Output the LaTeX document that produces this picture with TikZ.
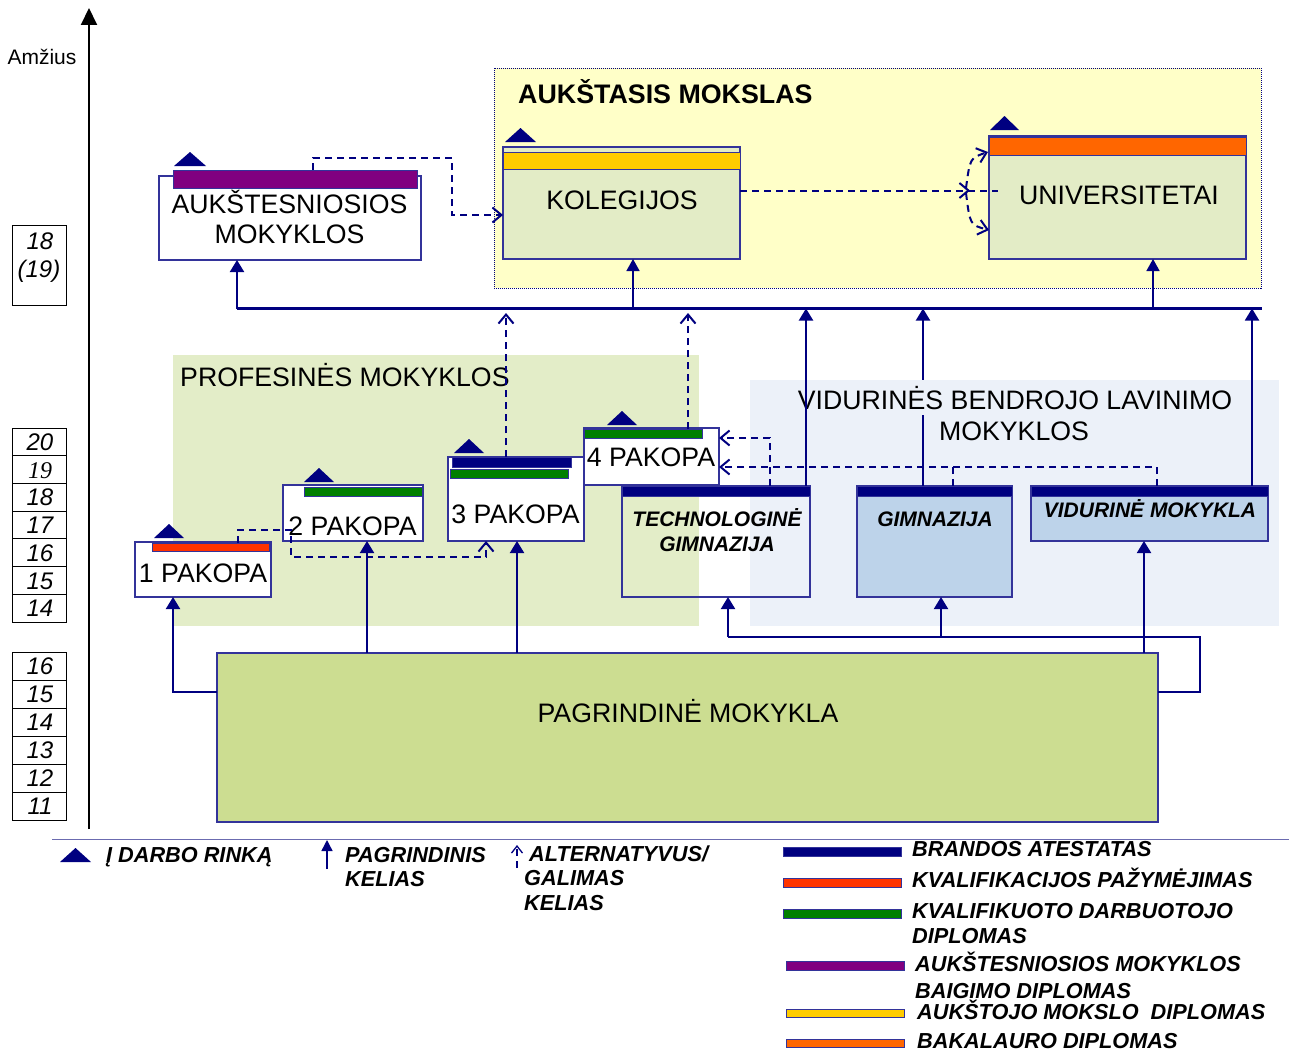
\documentclass[tikz,border=0pt]{standalone}
\usepackage{fontspec}
\setmainfont{Liberation Sans}
\newfontfamily\serifit{Liberation Serif}
\usetikzlibrary{arrows.meta}
\definecolor{navy}{HTML}{000080}
\definecolor{bxc}{HTML}{33339A}
\definecolor{profg}{HTML}{E3EDC8}
\definecolor{vidb}{HTML}{ECF1F9}
\definecolor{aukY}{HTML}{FFFFC8}
\definecolor{kolg}{HTML}{E3ECC6}
\definecolor{gimb}{HTML}{BDD3EA}
\definecolor{pagg}{HTML}{CCDD91}
\definecolor{cRed}{HTML}{FF3300}
\definecolor{cGreen}{HTML}{007F00}
\definecolor{cPurple}{HTML}{800080}
\definecolor{cYellow}{HTML}{FFCC00}
\definecolor{cOrange}{HTML}{FF6600}
\definecolor{divc}{HTML}{6B6BB0}
\newcommand\mkbox[6]{\node[#6, minimum width=#4pt, minimum height=#5pt] (#1) at (#2,#3) {};}
\newcommand\mktri[3]{\fill[navy] (#1,#3) -- (#2,#3) -- ({(#1+#2)/2},{#3-14}) -- cycle;}
\begin{document}
\begin{tikzpicture}[x=1pt,y=-1pt,
  bxst/.style={draw=bxc, line width=1.3pt, anchor=north west, inner sep=0pt, outer sep=0pt},
  barst/.style={draw=bxc, line width=0.8pt, anchor=north west, inner sep=0pt, outer sep=0pt},
  regst/.style={anchor=north west, inner sep=0pt, outer sep=0pt},
  agest/.style={draw=black, line width=0.8pt, anchor=north west, inner sep=0pt, outer sep=0pt},
  busln/.style={draw=navy, line width=2.5pt},
  mainln/.style={draw=navy, line width=2pt},
  arrln/.style={mainln, -{Triangle[width=14pt,length=12pt]}},
  arrthinln/.style={draw=navy, line width=1.5pt, -{Triangle[width=13pt,length=12pt]}},
  dshln/.style={draw=navy, line width=2pt, dash pattern=on 7pt off 5pt},
  altln/.style={dshln, -{Straight Barb[width=15pt,length=9pt]}},
  big/.style={font=\fontsize{26.7}{30}\selectfont, inner sep=0pt},
  bigb/.style={font=\fontsize{26.8}{30}\selectfont\bfseries, inner sep=0pt},
  bi/.style={font=\fontsize{21}{25}\selectfont\bfseries\itshape, inner sep=0pt},
  lgt/.style={font=\fontsize{21.7}{25}\selectfont\bfseries\itshape, inner sep=0pt},
  num/.style={font=\fontsize{24}{28}\selectfont\itshape, inner sep=0pt},
  amz/.style={font=\fontsize{21}{25}\selectfont, inner sep=0pt}
]
\useasboundingbox (0,0) rectangle (1289,1057);
\fill[white] (0,0) rectangle (1289,1057);

% regions
\node[regst, fill=aukY, draw=navy, line width=1pt, densely dotted, minimum width=767pt, minimum height=220pt] (aukR) at (494,68) {};
\node[regst, fill=profg, minimum width=526pt, minimum height=271pt] (profR) at (173,355) {};
\node[regst, fill=vidb, minimum width=529pt, minimum height=246pt] (vidR) at (750,380) {};
\node[bigb, anchor=base west] (aukT) at (518,103) {AUKŠTASIS MOKSLAS};
\node[big, anchor=base west] (profT) at (180,386) {PROFESINĖS MOKYKLOS};

% axis
\coordinate (axB) at (89,829);
\coordinate (axT) at (89,8);
\draw[line width=2pt, -{Triangle[width=16pt,length=17pt]}] (axB) -- (axT);
\node[amz, anchor=base] (amz) at (42,64) {Amžius};

% age boxes
\mkbox{ageTop}{12}{225}{54}{80}{agest}
\node[num, anchor=base] (ageTopA) at (40,249) {18};
\node[num, anchor=base] (ageTopB) at (39,277) {(19)};
\foreach \t [count=\i from 0] in {20,{\serifit 19},18,17,16,15,14}{
  \node[agest, minimum width=54pt, minimum height=27.7pt] (ageA\i) at (12,{428+27.7*\i}) {};
  \node[num, anchor=base] (ageAt\i) at (40,{428+27.7*\i+22.5}) {\t};
}
\foreach \t [count=\i from 0] in {16,15,14,13,12,11}{
  \node[agest, minimum width=54pt, minimum height=28pt] (ageB\i) at (12,{652+28*\i}) {};
  \node[num, anchor=base] (ageBt\i) at (40,{652+28*\i+22.6}) {\t};
}

% boxes
\mkbox{aukst}{159}{176}{262}{84}{bxst, fill=white}
\mkbox{aukstbar}{173}{170}{244}{18}{barst, fill=cPurple}
\mkbox{kol}{503}{147}{237}{112}{bxst, fill=kolg}
\mkbox{kolbar}{503}{152}{237}{17}{barst, fill=cYellow}
\mkbox{univ}{989}{136}{257}{123}{bxst, fill=kolg}
\mkbox{univbar}{989}{137}{257}{18}{barst, fill=cOrange}
\mkbox{pone}{135}{542}{136}{55}{bxst, fill=white}
\mkbox{ponebar}{152}{543}{117}{8}{barst, fill=cRed}
\mkbox{ptwo}{283}{485}{140}{56}{bxst, fill=white}
\mkbox{ptwobar}{304}{487}{118}{9}{barst, fill=cGreen}
\mkbox{pthree}{448}{457}{136}{84}{bxst, fill=white}
\mkbox{pthreebarA}{452}{457}{119}{10}{barst, fill=navy}
\mkbox{pthreebarB}{450}{469}{118}{9}{barst, fill=cGreen}
\mkbox{pfour}{584}{428}{135}{57}{bxst, fill=white}
\mkbox{pfourbar}{584}{429}{118}{9}{barst, fill=cGreen}
\mkbox{tech}{622}{486}{188}{111}{bxst}
\mkbox{techbar}{622}{486}{188}{10}{barst, fill=navy}
\mkbox{gim}{857}{486}{155}{111}{bxst, fill=gimb}
\mkbox{gimbar}{857}{486}{155}{10}{barst, fill=navy}
\mkbox{vidm}{1031}{486}{237}{55}{bxst, fill=gimb}
\mkbox{vidmbar}{1031}{486}{237}{10}{barst, fill=navy}
\mkbox{pag}{217}{653}{941}{169}{bxst, fill=pagg}

% work-market triangles
\mktri{174}{206}{166}
\mktri{505}{536}{142}
\mktri{990}{1019}{130}
\mktri{154}{184}{538}
\mktri{304}{334}{482}
\mktri{454}{484}{453}
\mktri{607}{637}{425}

% solid connectors
\coordinate (busL) at (237,308.5);
\coordinate (busR) at (1262,308.5);
\draw[busln] (busL) -- (busR);
\draw[arrln] (busL) -- (aukst.south -| busL);
\draw[arrthinln] (633,0 |- busL) -- (633,0 |- kol.south);
\draw[arrthinln] (1153,0 |- busL) -- (1153,0 |- univ.south);
\draw[arrln] (923,0 |- gim.north) -- (923,0 |- busL);
\node[big, anchor=base, fill=vidb, inner ysep=6pt] (vidT1) at (1015,409) {VIDURINĖS BENDROJO LAVINIMO};
\node[big, anchor=base] (vidT2) at (1014,440) {MOKYKLOS};
\draw[arrln] (806,0 |- tech.north) -- (806,0 |- busL);
\draw[arrln] (1252,0 |- vidm.north) -- (1252,0 |- busL);

\draw[arrln] (pag.west |- 0,692) -- (173,692) -- (173,0 |- pone.south);
\draw[arrln] (367,0 |- pag.north) -- (367,0 |- ptwo.south);
\draw[arrln] (517,0 |- pag.north) -- (517,0 |- pthree.south);
\coordinate (rj) at (1200,637);
\coordinate (lj) at (728,637);
\draw[mainln] (pag.east |- 0,692) -- (rj |- 0,692) -- (rj) -- (lj);
\draw[arrln] (lj) -- (lj |- tech.south);
\draw[arrln] (941,637) -- (941,0 |- gim.south);
\draw[arrln] (1144,0 |- pag.north) -- (1144,0 |- vidm.south);

% texts in boxes
\node[big, anchor=base] (aukstT1) at (289.5,213) {AUKŠTESNIOSIOS};
\node[big, anchor=base] (aukstT2) at (289.5,243) {MOKYKLOS};
\node[big, anchor=base] (kolT) at (622,209) {KOLEGIJOS};
\node[big, anchor=base] (univT) at (1119,204) {UNIVERSITETAI};
\node[big, anchor=base] (poneT) at (203,582) {1 PAKOPA};
\node[big, anchor=base] (ptwoT) at (352.5,535) {2 PAKOPA};
\node[big, anchor=base] (pthreeT) at (515.5,523) {3 PAKOPA};
\node[big, anchor=base] (pfourT) at (651,466) {4 PAKOPA};
\node[bi, anchor=base] (techT1) at (717,526) {TECHNOLOGINĖ};
\node[bi, anchor=base] (techT2) at (717,551) {GIMNAZIJA};
\node[bi, anchor=base] (gimT) at (935,526) {GIMNAZIJA};
\node[bi, anchor=base] (vidmT) at (1150,517) {VIDURINĖ MOKYKLA};
\node[big, anchor=base] (pagT) at (688,722) {PAGRINDINĖ MOKYKLA};

% dashed (alternative) connectors
\draw[altln] (313,0 |- aukstbar.north) -- (313,158) -- (452,158) -- (452,215) -- (kol.west |- 0,215);
\draw[altln] (kol.east |- 0,190.5) -- (970,190.5);
\draw[dshln] (968,190.5) -- (998,190.5);
\draw[altln] (966,188) .. controls (970,158) .. (988,152);
\draw[altln] (966,193) .. controls (970,225) .. (989,230);
\draw[altln] (238,0 |- ponebar.north) -- (238,530) -- (291,530) -- (291,557) -- (486,557) -- (486,0 |- pthree.south);
\draw[altln] (506,0 |- pthreebarA.north) -- (506,313);
\draw[altln] (688,0 |- pfourbar.north) -- (688,313);
\draw[altln] (770,0 |- tech.north) -- (770,438) -- (pfour.east |- 0,438);
\draw[dshln] (953,0 |- gim.north) -- (953,467);
\draw[altln] (1157,0 |- vidm.north) -- (1157,467) -- (pfour.east |- 0,467);

% legend
\coordinate (dvL) at (52,839.5);
\coordinate (dvR) at (1289,839.5);
\draw[divc, line width=1.2pt] (dvL) -- (dvR);
\mktri{60}{91}{862}
\node[lgt, anchor=base west] (lgA) at (106,862) {Į DARBO RINKĄ};
\coordinate (lgArrB) at (327,869);
\coordinate (lgArrT) at (327,840);
\draw[arrthinln, -{Triangle[width=11pt,length=11pt]}] (lgArrB) -- (lgArrT);
\node[lgt, anchor=base west] (lgB1) at (345,862) {PAGRINDINIS};
\node[lgt, anchor=base west] (lgB2) at (345,886) {KELIAS};
\coordinate (lgAltB) at (517,868);
\coordinate (lgAltT) at (517,845);
\draw[altln, line width=1.3pt, -{Straight Barb[width=11pt,length=7pt]}] (lgAltB) -- (lgAltT);
\node[lgt, anchor=base west] (lgC1) at (529,861) {ALTERNATYVUS/};
\node[lgt, anchor=base west] (lgC2) at (524,885) {GALIMAS};
\node[lgt, anchor=base west] (lgC3) at (524,910) {KELIAS};

\mkbox{lgBarA}{783}{847}{118}{9}{barst, fill=navy}
\mkbox{lgBarB}{783}{878}{118}{9}{barst, fill=cRed}
\mkbox{lgBarC}{783}{909}{118}{9}{barst, fill=cGreen}
\mkbox{lgBarD}{786}{961}{118}{9}{barst, fill=cPurple}
\mkbox{lgBarE}{786}{1009}{118}{8}{barst, fill=cYellow}
\mkbox{lgBarF}{786}{1039}{118}{8}{barst, fill=cOrange}
\node[lgt, anchor=base west] (lgT1) at (912,856) {BRANDOS ATESTATAS};
\node[lgt, anchor=base west] (lgT2) at (912,887) {KVALIFIKACIJOS PAŽYMĖJIMAS};
\node[lgt, anchor=base west] (lgT3) at (912,918) {KVALIFIKUOTO DARBUOTOJO};
\node[lgt, anchor=base west] (lgT3b) at (912,943) {DIPLOMAS};
\node[lgt, anchor=base west] (lgT4) at (915,971) {AUKŠTESNIOSIOS MOKYKLOS};
\node[lgt, anchor=base west] (lgT4b) at (915,998) {BAIGIMO DIPLOMAS};
\node[lgt, anchor=base west] (lgT5) at (917,1019) {AUKŠTOJO MOKSLO~~DIPLOMAS};
\node[lgt, anchor=base west] (lgT6) at (917,1048) {BAKALAURO DIPLOMAS};
\end{tikzpicture}
\end{document}
